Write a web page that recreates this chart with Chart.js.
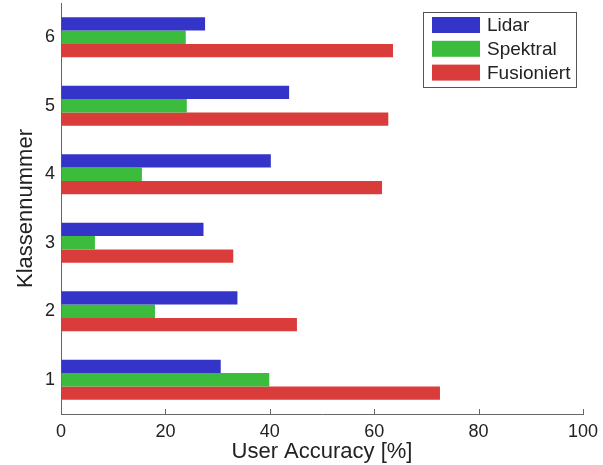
<!DOCTYPE html>
<html>
<head>
<meta charset="utf-8">
<script src="https://cdn.jsdelivr.net/npm/chart.js@4/dist/chart.umd.min.js"></script>
<style>
  html, body { margin: 0; padding: 0; background: #fff; }
  #wrap { width: 603px; height: 465px; }
</style>
</head>
<body>
<div id="wrap"><canvas id="c" width="603" height="465"></canvas></div>
<script>
// Class numbers (category axis) and user accuracy per method, in percent
const classes = ['1', '2', '3', '4', '5', '6'];
const lidar = [30.6, 33.8, 27.3, 40.2, 43.7, 27.6];
const spektral = [39.9, 18.0, 6.5, 15.5, 24.1, 23.9];
const fusioniert = [72.6, 45.2, 33.0, 61.5, 62.7, 63.6];
const seriesNames = ['Lidar', 'Spektral', 'Fusioniert'];
const xTicks = [0, 20, 40, 60, 80, 100];

const colors = ['#3434c8', '#3cbc3c', '#da3c3c'];
const FONT = 'Liberation Sans, Arial, sans-serif';

// Small tick marks pointing into the plot from the bottom axis
const innerTicks = {
  id: 'innerTicks',
  afterDatasetsDraw(chart) {
    const ctx = chart.ctx, x = chart.scales.x, a = chart.chartArea;
    ctx.save();
    ctx.strokeStyle = '#666';
    ctx.lineWidth = 1;
    xTicks.forEach(v => {
      const px = Math.round(x.getPixelForValue(v)) + 0.5;
      ctx.beginPath();
      ctx.moveTo(px, a.bottom);
      ctx.lineTo(px, a.bottom - 5);
      ctx.stroke();
    });
    ctx.restore();
  }
};

// Boxed legend in the upper right corner of the plot
const boxLegend = {
  id: 'boxLegend',
  afterDraw(chart) {
    const ctx = chart.ctx;
    const bx = 423, by = 12, bw = 153, bh = 75;
    ctx.save();
    ctx.fillStyle = '#fff';
    ctx.fillRect(bx, by, bw, bh);
    ctx.strokeStyle = '#555';
    ctx.lineWidth = 1;
    ctx.strokeRect(bx + 0.5, by + 0.5, bw, bh);
    ctx.font = '19px ' + FONT;
    ctx.textBaseline = 'middle';
    chart.data.datasets.forEach((ds, i) => {
      const cy = 25 + i * 23.8;
      ctx.fillStyle = ds.backgroundColor;
      ctx.fillRect(432, cy - 8, 48, 16);
      ctx.fillStyle = '#222';
      ctx.fillText(ds.label, 487, cy + 1);
    });
    ctx.restore();
  }
};

new Chart(document.getElementById('c'), {
  type: 'bar',
  data: {
    labels: classes,
    datasets: [
      { label: seriesNames[0], data: lidar, backgroundColor: colors[0] },
      { label: seriesNames[1], data: spektral, backgroundColor: colors[1] },
      { label: seriesNames[2], data: fusioniert, backgroundColor: colors[2] }
    ]
  },
  options: {
    indexAxis: 'y',
    responsive: false,
    animation: false,
    devicePixelRatio: 1,
    categoryPercentage: 0.583,
    barPercentage: 1.0,
    layout: { padding: { left: 0, right: 20, top: 3, bottom: 0 } },
    plugins: {
      legend: { display: false },
      tooltip: { enabled: false }
    },
    scales: {
      x: {
        min: 0, max: 100,
        afterBuildTicks(scale) { scale.ticks = xTicks.map(v => ({ value: v })); },
        afterFit(scale) {
          scale.height = 51;
          scale.paddingLeft = 0;
          scale.paddingRight = 0;
        },
        grid: { display: true, drawOnChartArea: false, drawTicks: false },
        border: { display: true, color: '#666', width: 1 },
        ticks: { color: '#222', font: { family: FONT, size: 18 }, padding: 7 },
        title: {
          display: true, text: 'User Accuracy [%]', color: '#222',
          font: { family: FONT, size: 22 }, padding: { top: 0, bottom: 0 }
        }
      },
      y: {
        reverse: true,
        afterFit(scale) {
          scale.width = 61;
          scale.paddingTop = 0;
          scale.paddingBottom = 0;
        },
        grid: { display: true, drawOnChartArea: false, drawTicks: false },
        border: { display: true, color: '#666', width: 1 },
        ticks: { color: '#222', font: { family: FONT, size: 18 }, padding: 6 },
        title: {
          display: true, text: 'Klassennummer', color: '#222',
          font: { family: FONT, size: 22 }, padding: { top: 13, bottom: 0 }
        }
      }
    }
  },
  plugins: [innerTicks, boxLegend]
});
</script>
</body>
</html>
